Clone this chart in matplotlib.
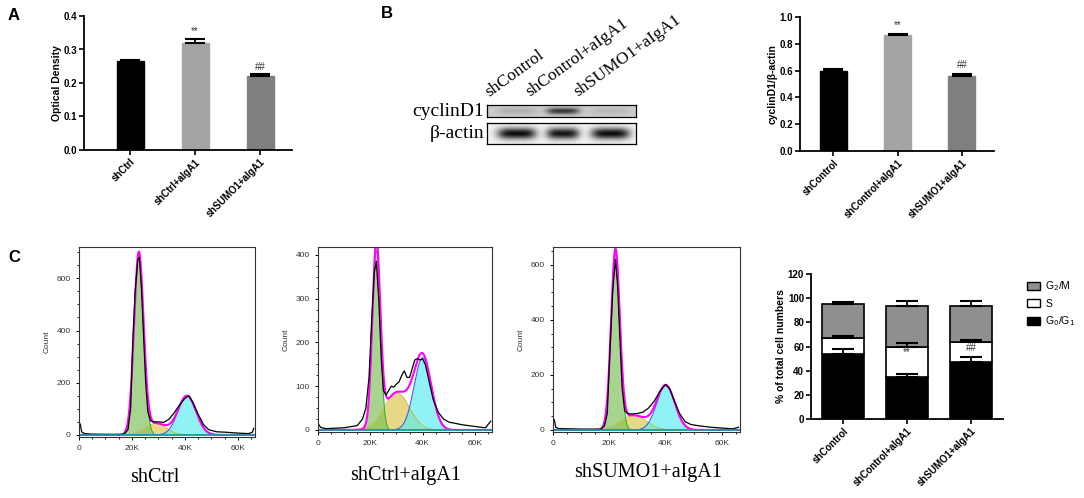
import numpy as np
import matplotlib.pyplot as plt
from matplotlib.patches import Patch
from matplotlib.ticker import MultipleLocator

plt.rcParams['font.family'] = ['Liberation Sans', 'DejaVu Sans']
W, H = 1084, 498

# ---- panel A: CCK-8 optical density
a_groups = ['shCtrl', 'shCtrl+aIgA1', 'shSUMO1+aIgA1']
a_od = [0.265, 0.318, 0.221]
a_err = [0.003, 0.013, 0.005]
a_marks = ['', '**', '##']
a_colors = ['#000000', '#a4a4a4', '#7f7f7f']

# ---- panel B: western blot + quantification
b_groups = ['shControl', 'shControl+aIgA1', 'shSUMO1+aIgA1']
b_ratio = [0.597, 0.866, 0.560]
b_err = [0.015, 0.007, 0.018]
b_marks = ['', '**', '##']
blot_cyclin = [0.32, 0.80, 0.28]
blot_actin = [0.95, 0.92, 0.95]

# ---- panel C: cell cycle histograms (x in K)
hist_titles = ['shCtrl', 'shCtrl+aIgA1', 'shSUMO1+aIgA1']
hist_ymax = [720, 418, 665]
hist_ystep = [200, 100, 200]
# fitted components: (centre, width, height)
fit_g1 = [(22.6, 1.8, 690), (22.3, 1.5, 410), (22.2, 1.55, 640)]
fit_s = [(29.0, 4.0, 44), (30.1, 4.8, 85), (28.7, 4.5, 53)]
fit_g2 = [(40.8, 3.4, 150), (40.0, 3.3, 165), (40.1, 3.2, 162)]
raw_x = [
    [0, 0.5, 1, 2, 5, 10, 15, 17, 18.5, 19.5, 20.3, 21.2, 22.2, 22.8, 23.6, 24.4, 25.2, 26, 27,
     28, 30, 32, 34, 36, 38, 40, 41.5, 43, 45, 47, 49, 52, 56, 60, 64, 65.5, 66],
    [0, 1, 3, 10, 15, 17, 18.3, 19.5, 20.5, 21.5, 22.3, 23.2, 24.2, 25, 26, 27, 28, 29, 30, 31,
     32, 33, 34, 35, 36, 37, 38, 39, 40, 41, 42.5, 44, 46, 48, 50, 55, 60, 64, 66],
    [0, 0.5, 1, 2, 10, 17, 18.3, 19.3, 20.3, 21.2, 22.2, 23, 23.8, 24.6, 25.5, 26.5, 28, 30, 32,
     34, 36, 38, 40, 41.5, 43, 45, 47, 49, 52, 56, 60, 64, 66],
]
raw_y = [
    [50, 40, 12, 5, 3, 2, 2, 3, 20, 100, 350, 550, 670, 680, 560, 380, 200, 90, 55,
     50, 50, 48, 60, 85, 115, 140, 150, 125, 80, 40, 20, 12, 10, 7, 5, 10, 25],
    [15, 6, 3, 5, 10, 25, 50, 120, 250, 360, 385, 300, 160, 90, 80, 90, 100, 98, 105, 110,
     125, 135, 120, 120, 140, 160, 163, 160, 162, 150, 110, 70, 40, 25, 18, 12, 8, 5, 20],
    [45, 35, 10, 5, 3, 3, 15, 60, 300, 500, 620, 520, 330, 150, 70, 60, 58, 60, 65,
     80, 105, 140, 165, 150, 110, 60, 30, 20, 15, 10, 7, 4, 10],
]

# ---- panel C: stacked percentages
g0g1 = [54.0, 35.0, 47.5]
g0g1_err = [4.0, 2.5, 3.5]
s_phase = [12.7, 25.0, 16.5]
s_err = [2.3, 3.0, 1.5]
g2m = [28.3, 33.5, 29.5]
g2m_err = [2.0, 4.0, 4.0]
c_marks = ['', '**', '##']


def box(l, t, r, b):
    return fig.add_axes([l / W, 1 - b / H, (r - l) / W, (b - t) / H])


def gauss(x, p):
    mu, sd, h = p
    return h * np.exp(-0.5 * ((x - mu) / sd) ** 2)


def prism_axes(ax):
    for s in ['top', 'right']:
        ax.spines[s].set_visible(False)
    for s in ['left', 'bottom']:
        ax.spines[s].set_linewidth(1.3)
    ax.tick_params(width=1.2, length=3.5, labelsize=7, pad=1.5)
    for lab in ax.get_yticklabels():
        lab.set_fontweight('bold')


def bar_panel(ax, groups, vals, errs, marks, colors, ymax, step, ylabel, mark_off):
    x = np.arange(len(groups))
    ax.bar(x, vals, 0.42, color=colors, edgecolor=colors, zorder=2)
    ax.errorbar(x, vals, yerr=[np.zeros(len(vals)), errs], fmt='none', ecolor='k',
                elinewidth=1.3, capsize=7, capthick=1.5, zorder=3)
    for xi, v, e, m in zip(x, vals, errs, marks):
        if m:
            ax.text(xi, v + e + mark_off, m, ha='center', va='bottom', fontsize=7, color='#333333')
    ax.set_xlim(-0.52, 2.5)
    ax.set_ylim(0, ymax)
    ax.yaxis.set_major_locator(MultipleLocator(step))
    ax.set_xticks(x)
    ax.set_xticklabels(groups, rotation=45, ha='right', rotation_mode='anchor',
                       fontsize=7, fontweight='bold')
    ax.set_ylabel(ylabel, fontsize=7.5, fontweight='bold', labelpad=1)
    prism_axes(ax)


fig = plt.figure(figsize=(W / 100, H / 100), dpi=100)

# panel letters
fig.text(8 / W, 1 - 16 / H, 'A', fontsize=12, fontweight='bold', va='center')
fig.text(381 / W, 1 - 14 / H, 'B', fontsize=12, fontweight='bold', va='center')
fig.text(8 / W, 1 - 258 / H, 'C', fontsize=12, fontweight='bold', va='center')

# A
axA = box(84, 16, 292, 150)
bar_panel(axA, a_groups, a_od, a_err, a_marks, a_colors, 0.4, 0.1, 'Optical Density', 0.008)
axA.set_xlim(-0.71, 2.49)
axA.yaxis.set_major_formatter(plt.FormatStrFormatter('%.1f'))

# B quantification
axB = box(800, 17, 994, 151)
bar_panel(axB, b_groups, b_ratio, b_err, b_marks, a_colors, 1.0, 0.2, 'cyclinD1/β-actin', 0.03)
axB.yaxis.set_major_formatter(plt.FormatStrFormatter('%.1f'))

# B blot
lane_c = [0.20, 0.51, 0.83]
lane_w = [0.13, 0.11, 0.13]
for (t, b), inten, bg, name in [((105, 117), blot_cyclin, 0.2, 'cyclinD1'),
                                ((123, 144), blot_actin, 0.05, 'β-actin')]:
    axw = box(487, t, 636, b)
    xx = np.linspace(0, 1, 300)
    yy = np.linspace(-1, 1, 40)
    X, Y = np.meshgrid(xx, yy)
    img = np.full_like(X, bg)
    for c, w, v in zip(lane_c, lane_w, inten):
        img += (v - bg) * np.exp(-((X - c) / w) ** 4) * np.exp(-(Y / 0.55) ** 2)
    axw.imshow(img, cmap='gray_r', vmin=0, vmax=1, aspect='auto', extent=(0, 1, 0, 1),
               interpolation='bilinear')
    axw.set_xticks([])
    axw.set_yticks([])
    for s in axw.spines.values():
        s.set_linewidth(0.9)
    fig.text(484 / W, 1 - (t + b) / 2 / H, name, family=['Liberation Serif'], fontsize=14,
             ha='right', va='center')
for xs, name in zip([492, 532, 580], b_groups):
    fig.text(xs / W, 1 - 100 / H, name, family=['Liberation Serif'], fontsize=12.5,
             rotation=36, rotation_mode='anchor', ha='left', va='bottom')

# C histograms
hist_boxes = [(79, 247, 255, 437), (318, 247, 492, 432), (553, 247, 740, 432)]
title_pos = [(155, 478), (406, 475), (648, 472)]
xs = np.linspace(0, 66, 700)
for i, (l, t, r, b) in enumerate(hist_boxes):
    ax = box(l, t, r, b)
    g1 = gauss(xs, fit_g1[i])
    sp = gauss(xs, fit_s[i])
    g2 = gauss(xs, fit_g2[i])
    ax.fill_between(xs, 0, sp, color='#e0cc60', alpha=0.75, lw=0)
    ax.plot(xs, sp, color='#c9b33a', lw=0.6)
    ax.fill_between(xs, 0, g1, color='#78bf55', alpha=0.65, lw=0)
    ax.plot(xs, g1, color='#3aa830', lw=0.7)
    ax.fill_between(xs, 0, g2, color='#55ecf0', alpha=0.65, lw=0)
    ax.plot(xs, g2, color='#3a60f0', lw=0.8)
    ax.plot(xs, g1 + sp + g2, color='#ff00ff', lw=1.5)
    ax.plot(raw_x[i], raw_y[i], color='k', lw=0.9)
    ax.axhline(0, color='#10a0a0', lw=1.2)
    ax.set_xlim(0, 66.5)
    ax.set_ylim(-8 * hist_ymax[i] / 720, hist_ymax[i])
    ax.set_xticks([0, 20, 40, 60])
    ax.set_xticklabels(['0', '20K', '40K', '60K'])
    ax.xaxis.set_minor_locator(MultipleLocator(5))
    ax.yaxis.set_major_locator(MultipleLocator(hist_ystep[i]))
    ax.yaxis.set_minor_locator(MultipleLocator(hist_ystep[i] / 4))
    ax.tick_params(labelsize=6, labelcolor='#333333', length=2.5, width=0.7)
    ax.tick_params(which='minor', length=1.5, width=0.6)
    ax.set_ylabel('Count', fontsize=6, color='#333333', labelpad=4)
    for s in ax.spines.values():
        s.set_linewidth(0.8)
        s.set_color('#333333')
    tx, ty = title_pos[i]
    fig.text(tx / W, 1 - ty / H, hist_titles[i], family=['Liberation Serif'], fontsize=14.5,
             ha='center', va='center')

# C stacked bars
axC = box(811, 274, 1003, 419)
xc = np.arange(3)
s_bot = np.array(g0g1)
g_bot = s_bot + np.array(s_phase)
top = g_bot + np.array(g2m)
axC.bar(xc, g0g1, 0.67, color='k', edgecolor='k', lw=1.2, zorder=2)
axC.bar(xc, s_phase, 0.67, bottom=s_bot, color='white', edgecolor='k', lw=1.2, zorder=2)
axC.bar(xc, g2m, 0.67, bottom=g_bot, color='#8f8f8f', edgecolor='k', lw=1.2, zorder=2)
for y, e in [(s_bot, g0g1_err), (g_bot, s_err), (top, g2m_err)]:
    axC.errorbar(xc, y, yerr=[np.zeros(3), e], fmt='none', ecolor='k', elinewidth=1.3,
                 capsize=8, capthick=1.5, zorder=3)
for xi, gb, m in zip(xc, g_bot, c_marks):
    if m:
        axC.text(xi, gb - 5, m, ha='center', va='center', fontsize=7, color='#333333', zorder=4)
axC.set_xlim(-0.5, 2.5)
axC.set_ylim(0, 120)
axC.yaxis.set_major_locator(MultipleLocator(20))
axC.set_xticks(xc)
axC.set_xticklabels(b_groups, rotation=45, ha='right', rotation_mode='anchor',
                    fontsize=7, fontweight='bold')
axC.set_ylabel('% of total cell numbers', fontsize=7.5, fontweight='bold', labelpad=1)
prism_axes(axC)

handles = [Patch(facecolor='#8f8f8f', edgecolor='k', lw=1.0),
           Patch(facecolor='white', edgecolor='k', lw=1.0),
           Patch(facecolor='k', edgecolor='k', lw=1.0)]
fig.legend(handles, [r'G$_2$/M', 'S', r'G$_0$/G$_1$'], loc='upper left',
           bbox_to_anchor=(1018 / W, 1 - 270 / H), frameon=False, fontsize=7.5,
           handlelength=1.2, handleheight=0.8, handletextpad=0.5, labelspacing=0.55)

fig.savefig('out.png', dpi=100)
